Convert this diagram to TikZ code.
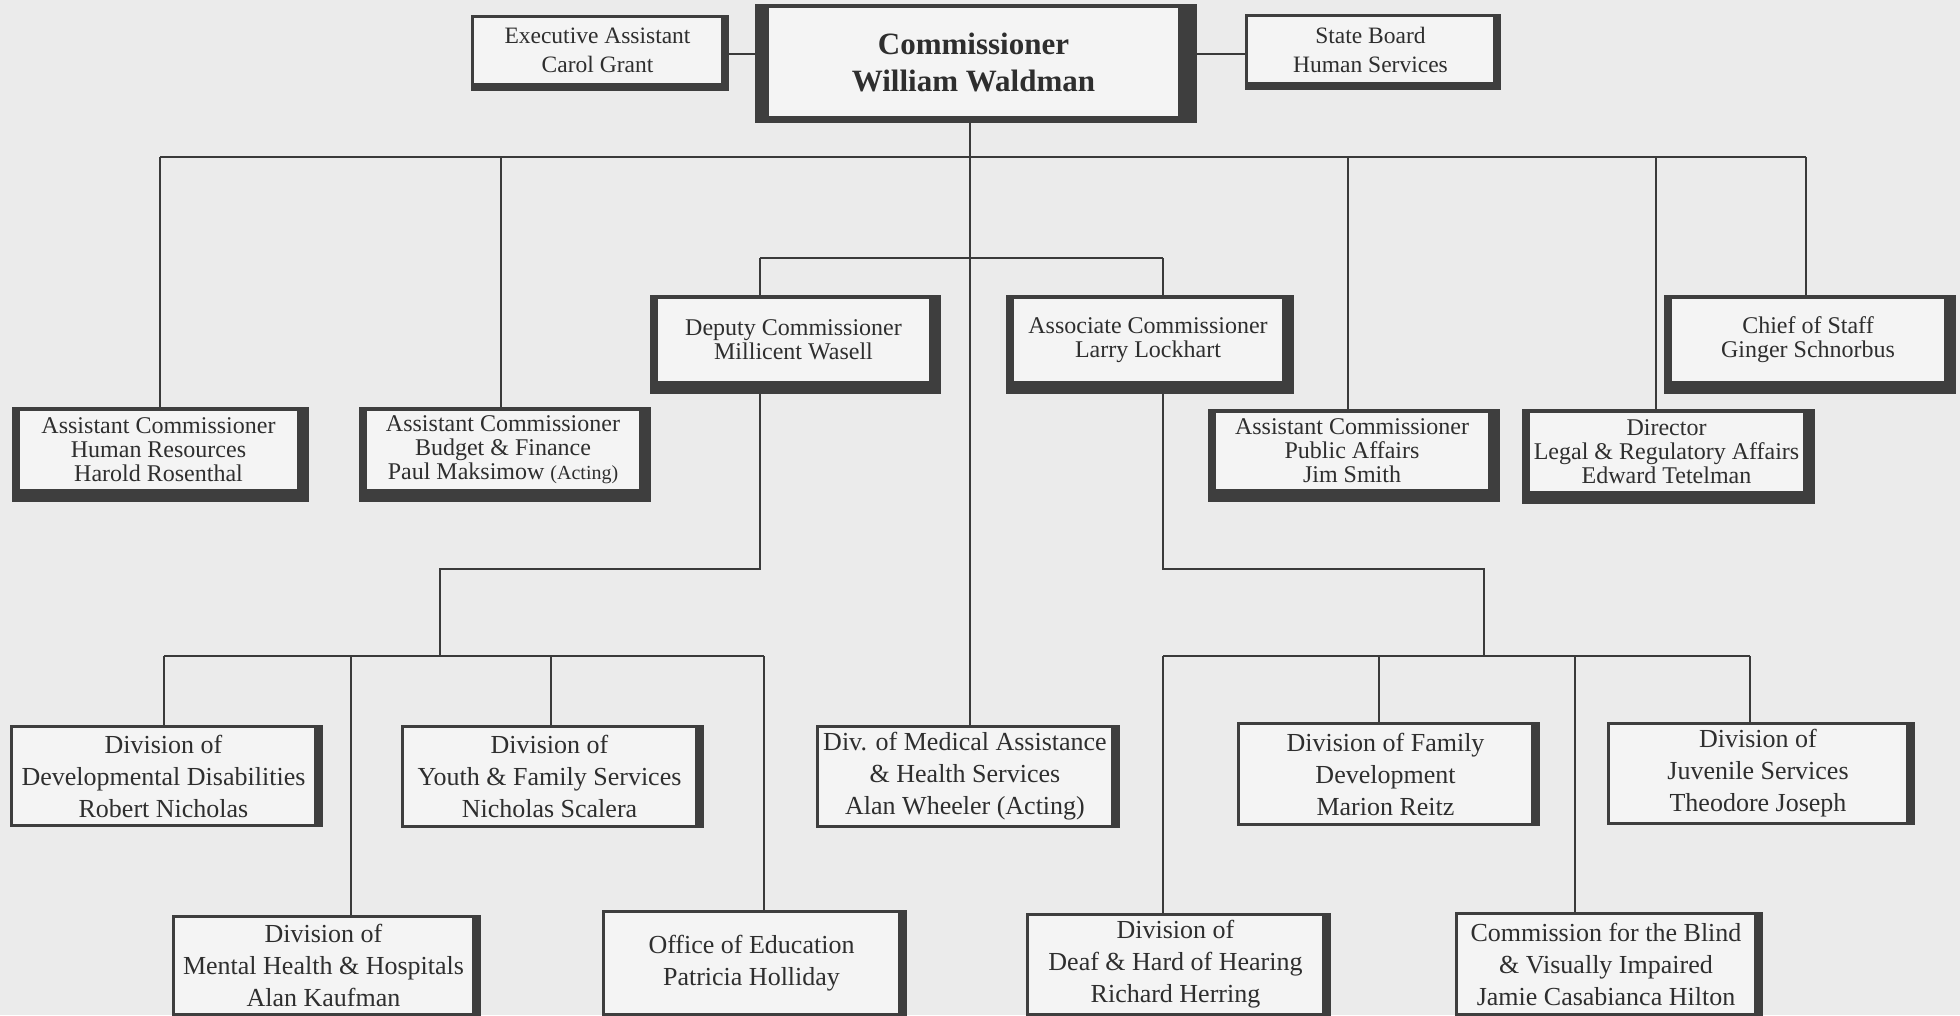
\documentclass[tikz,border=0pt]{standalone}
\usepackage{fontspec}
\setmainfont{Liberation Serif}
\pgfdeclarelayer{bgl}
\pgfdeclarelayer{lnl}
\pgfsetlayers{bgl,lnl,main}
\definecolor{pagebg}{HTML}{EBEBEB}
\definecolor{boxbg}{HTML}{F4F4F4}
\definecolor{bordc}{HTML}{3E3E3E}
\definecolor{inkc}{HTML}{2E2E2E}
\definecolor{linec}{HTML}{3A3A3A}
\newcommand\setborders[4]{\def\bL{#1}\def\bT{#2}\def\bR{#3}\def\bB{#4}}
\newcommand\obox[7]{%
 \pgfmathsetmacro\cx{(#3+\bL+#5-\bR)/2}%
 \pgfmathsetmacro\cy{(#4+\bT+#6-\bB)/2}%
 \pgfmathsetmacro\bw{#5-\bR-#3-\bL}%
 \pgfmathsetmacro\bh{#6-\bB-#4-\bT}%
 \fill[bordc] (#3,#4) rectangle (#5,#6);%
 \node[#2, minimum width=\bw pt, minimum height=\bh pt] (#1) at (\cx,\cy) {#7};}
\tikzset{
 boxbase/.style={rectangle, fill=boxbg, inner sep=0pt, align=center, text=inkc},
 topfont/.style={boxbase, font=\fontsize{23.5}{29}\selectfont},
 commfont/.style={boxbase, font=\fontsize{31}{37}\selectfont\bfseries},
 tierfont/.style={boxbase, font=\fontsize{24}{24}\selectfont},
 divfont/.style={boxbase, font=\fontsize{26}{32}\selectfont},
 conn/.style={draw=linec, line width=2.6pt},
}
\begin{document}
\begin{tikzpicture}[x=1pt,y=-1pt]
\useasboundingbox (0,0) rectangle (1960,1015);
\begin{pgfonlayer}{bgl}
\fill[pagebg] (0,0) rectangle (1960,1015);
\end{pgfonlayer}

% top row
\setborders{3}{3}{8}{8}
\obox{exec}{topfont}{471}{15}{729}{91}{Executive Assistant\\Carol Grant}
\obox{board}{topfont}{1245}{14}{1501}{90}{State Board\\Human Services}
\setborders{14}{4}{19}{7}
\obox{comm}{commfont}{755}{4}{1197}{123}{Commissioner\\William Waldman}

% second tier
\setborders{8}{4}{12}{13}
\obox{dep}{tierfont}{650}{295}{941}{394}{Deputy Commissioner\\Millicent Wasell}
\obox{assoc}{tierfont}{1006}{295}{1294}{394}{Associate Commissioner\\Larry Lockhart}
\obox{chief}{tierfont}{1664}{295}{1956}{394}{Chief of Staff\\Ginger Schnorbus}
\obox{hr}{tierfont}{12}{407}{309}{502}{Assistant Commissioner\\Human Resources\\Harold Rosenthal}
\obox{budget}{tierfont}{359}{407}{651}{502}{Assistant Commissioner\\Budget \& Finance\\Paul Maksimow {\fontsize{20}{24}\selectfont(Acting)}}
\obox{pa}{tierfont}{1208}{409}{1500}{502}{Assistant Commissioner\\Public Affairs\\Jim Smith}
\obox{legal}{tierfont}{1522}{409}{1815}{504}{Director\\Legal \& Regulatory Affairs\\Edward Tetelman}

% divisions
\setborders{3}{3}{9}{3}
\obox{dev}{divfont}{10}{725}{323}{827}{Division of\\Developmental Disabilities\\Robert Nicholas}
\obox{youth}{divfont}{401}{725}{704}{828}{Division of\\Youth \& Family Services\\Nicholas Scalera}
\obox{med}{divfont}{816}{725}{1120}{828}{Div. of Medical Assistance\\\& Health Services\\Alan Wheeler (Acting)}
\obox{fam}{divfont}{1237}{722}{1540}{826}{Division of Family\\Development\\Marion Reitz}
\obox{juv}{divfont}{1607}{722}{1915}{825}{Division of\\Juvenile Services\\Theodore Joseph}
\obox{mh}{divfont}{172}{915}{481}{1016}{Division of\\Mental Health \& Hospitals\\Alan Kaufman}
\obox{edu}{divfont}{602}{910}{907}{1016}{Office of Education\\Patricia Holliday}
\obox{deaf}{divfont}{1026}{913}{1331}{1016}{Division of\\Deaf \& Hard of Hearing\\Richard Herring}
\obox{blind}{divfont}{1455}{912}{1763}{1016}{Commission for the Blind\\\& Visually Impaired\\Jamie Casabianca Hilton}

% junction coordinates
\coordinate (ey) at (700,54);
\coordinate (jc) at (970,157);
\coordinate (jHR) at (160,157);
\coordinate (jBF) at (501,157);
\coordinate (jPA) at (1348,157);
\coordinate (jLG) at (1656,157);
\coordinate (jCS) at (1806,157);
\coordinate (j2L) at (760,258);
\coordinate (j2R) at (1163,258);
\coordinate (d1) at (760,569);
\coordinate (d2) at (440,569);
\coordinate (dbL) at (164,656);
\coordinate (dMH) at (351,656);
\coordinate (dYF) at (551,656);
\coordinate (dbR) at (764,656);
\coordinate (a1) at (1163,569);
\coordinate (a2) at (1484,569);
\coordinate (abL) at (1163,656);
\coordinate (aFD) at (1379,656);
\coordinate (aCB) at (1575,656);
\coordinate (abR) at (1750,656);

\begin{pgfonlayer}{lnl}
\draw[conn] (ey -| exec.east) -- (ey -| comm.west);
\draw[conn] (ey -| comm.east) -- (ey -| board.west);
\draw[conn] (jc |- comm.south) -- (jc |- med.north);
\draw[conn] (jHR) -- (jCS);
\draw[conn] (jHR) -- (jHR |- hr.north);
\draw[conn] (jBF) -- (jBF |- budget.north);
\draw[conn] (jPA) -- (jPA |- pa.north);
\draw[conn] (jLG) -- (jLG |- legal.north);
\draw[conn] (jCS) -- (jCS |- chief.north);
\draw[conn] (j2L) -- (j2R);
\draw[conn] (j2L) -- (j2L |- dep.north);
\draw[conn] (j2R) -- (j2R |- assoc.north);
% deputy branch
\draw[conn] (j2L |- dep.south) -- (d1) -- (d2) -- (d2 |- dbL);
\draw[conn] (dbL) -- (dbR);
\draw[conn] (dbL) -- (dbL |- dev.north);
\draw[conn] (dMH) -- (dMH |- mh.north);
\draw[conn] (dYF) -- (dYF |- youth.north);
\draw[conn] (dbR) -- (dbR |- edu.north);
% associate branch
\draw[conn] (j2R |- assoc.south) -- (a1) -- (a2) -- (a2 |- abL);
\draw[conn] (abL) -- (abR);
\draw[conn] (abL) -- (abL |- deaf.north);
\draw[conn] (aFD) -- (aFD |- fam.north);
\draw[conn] (aCB) -- (aCB |- blind.north);
\draw[conn] (abR) -- (abR |- juv.north);
\end{pgfonlayer}
\end{tikzpicture}
\end{document}
